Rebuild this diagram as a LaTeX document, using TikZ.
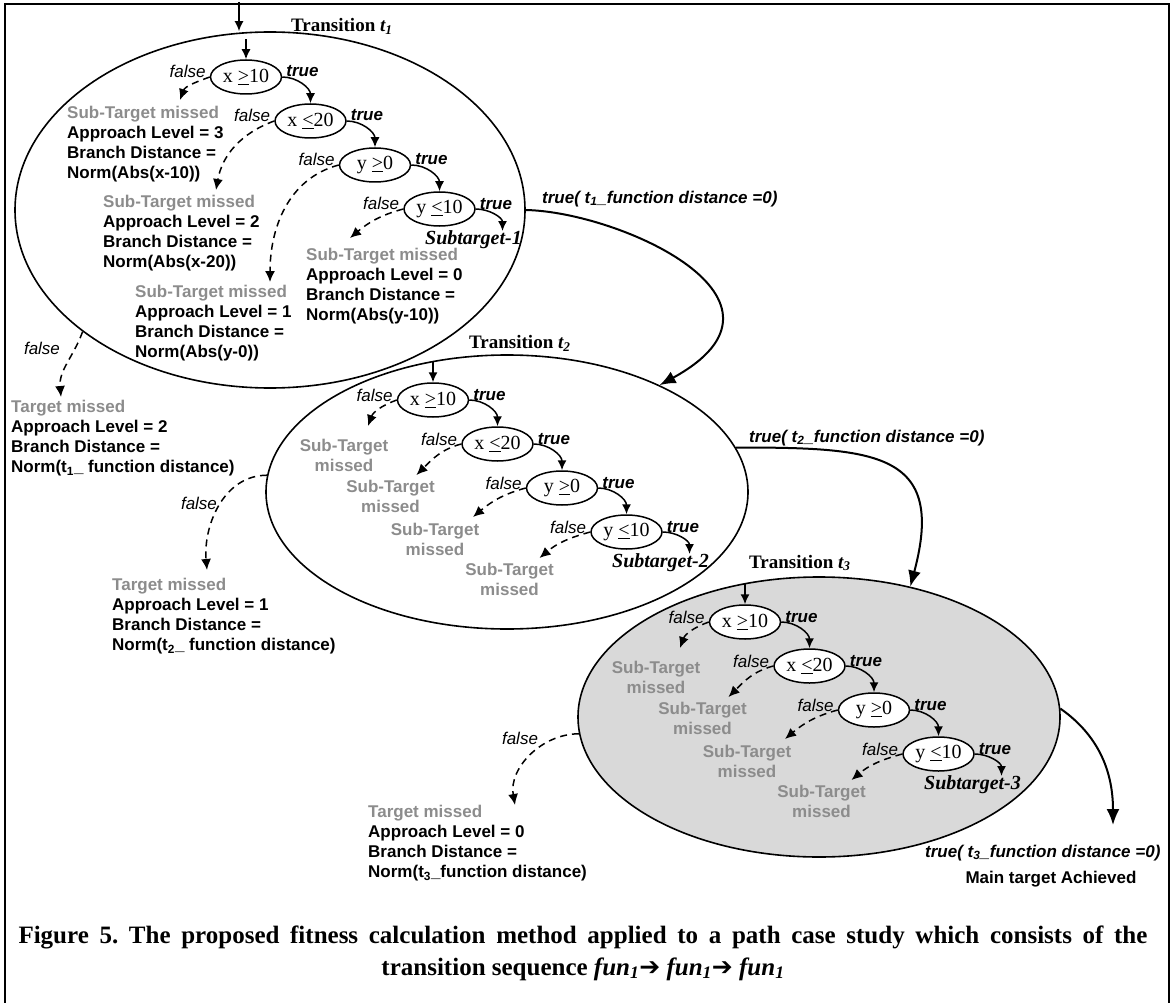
\documentclass[tikz,border=0pt]{standalone}
\usepackage{fontspec}
\setmainfont{Liberation Serif}
\setsansfont{Liberation Sans}
\newfontfamily\dingfont{DejaVu Sans}
\usetikzlibrary{shapes,shapes.geometric,arrows.meta,calc}
\frenchspacing
\definecolor{missgray}{RGB}{140,140,140}
\definecolor{stfill}{RGB}{217,217,217}
\tikzset{
  trans_n/.style = {ellipse, draw=black, line width=1.6pt, inner sep=0pt},
  cond_n/.style = {ellipse, draw=black, fill=white, line width=1.5pt, minimum width=71pt, minimum height=34pt, inner sep=0pt, font=\fontsize{20}{22}\selectfont},
  txt_n/.style = {inner sep=0pt, font=\sffamily\bfseries\fontsize{17}{20}\selectfont},
  miss_n/.style = {txt_n, align=left, anchor=north west},
  sub_n/.style = {txt_n, align=center, missgray},
  f_lbl/.style = {inner sep=0pt, font=\sffamily\itshape\fontsize{17}{20}\selectfont},
  t_lbl/.style = {inner sep=0pt, font=\sffamily\bfseries\itshape\fontsize{17}{20}\selectfont},
  tr_lbl/.style = {inner sep=0pt, anchor=west, font=\bfseries\fontsize{19}{22}\selectfont},
  st_lbl/.style = {inner sep=0pt, font=\bfseries\itshape\fontsize{20}{22}\selectfont},
  cap_n/.style = {inner sep=0pt, align=center, font=\bfseries\fontsize{25}{32}\selectfont},
  t_arr/.style = {line width=1.5pt, -{Latex[length=10pt,width=9pt]}},
  f_arr/.style = {line width=1.5pt, dash pattern=on 7pt off 5pt, -{Latex[length=11pt,width=10pt]}},
  big_arr/.style = {line width=2pt, -{Latex[length=16pt,width=13pt]}}
}

\begin{document}
\begin{tikzpicture}[x=1pt,y=1pt]
	\useasboundingbox (0,0) rectangle (1172,-1003);
	\draw[line width=1.5pt] (5,-1003) |- (1169,-4) -- (1169,-1003);

	\node[trans_n, minimum width=510pt, minimum height=356pt] (tr1) at (270,-210) {};
	\node[trans_n, minimum width=482pt, minimum height=274pt] (tr2) at (507,-492) {};
	\node[trans_n, fill=stfill, minimum width=482pt, minimum height=280pt] (tr3) at (819,-717) {};

	\node[tr_lbl] (tl1) at (291,-26) {Transition \textit{t\textsubscript{1}}};
	\node[tr_lbl] (tl2) at (469,-343) {Transition \textit{t\textsubscript{2}}};
	\node[tr_lbl] (tl3) at (749,-563) {Transition \textit{t\textsubscript{3}}};

	\coordinate (start) at (239,-2);
	\draw[t_arr] (start) -- (start |- tr1.north);

	\foreach \k/\px/\py in {1/246/77, 2/433/400, 3/745/622}{
		\node[cond_n] (c\k1) at (\px,-\py) {x \underline{>}10};
		\node[cond_n] (c\k2) at ($(c\k1)+(64.5,-44)$) {x \underline{<}20};
		\node[cond_n] (c\k3) at ($(c\k2)+(64.5,-44)$) {y \underline{>}0};
		\node[cond_n] (c\k4) at ($(c\k3)+(64.5,-44)$) {y \underline{<}10};
		\coordinate (s\k) at ($(c\k4)+(63,-22)$);
		\node[st_lbl] (st\k) at ($(c\k4)+(34,-31)$) {Subtarget-\k};
		\draw[t_arr] ($(c\k1.north)+(0,20)$) -- (c\k1.north);
		\draw[t_arr] (c\k1.east) to[out=0,in=90] (c\k2.north);
		\draw[t_arr] (c\k2.east) to[out=0,in=90] (c\k3.north);
		\draw[t_arr] (c\k3.east) to[out=0,in=90] (c\k4.north);
		\draw[t_arr] (c\k4.east) to[out=0,in=90] (s\k);
		\foreach \j in {1,...,4}{
			\node[f_lbl, anchor=base east] (f\k\j) at ($(c\k\j.west)+(-4,-1)$) {false};
			\node[t_lbl, anchor=base west] (t\k\j) at ($(c\k\j.east)+(4,0)$) {true};
		}
	}

	\node[miss_n] (m11) at (67,-106) {{\color{missgray}Sub-Target missed}\\Approach Level = 3\\Branch Distance =\\Norm(Abs(x-10))};
	\node[miss_n] (m12) at (103,-195) {{\color{missgray}Sub-Target missed}\\Approach Level = 2\\Branch Distance =\\Norm(Abs(x-20))};
	\node[miss_n] (m13) at (135,-285) {{\color{missgray}Sub-Target missed}\\Approach Level = 1\\Branch Distance =\\Norm(Abs(y-0))};
	\node[miss_n] (m14) at (306,-248) {{\color{missgray}Sub-Target missed}\\Approach Level = 0\\Branch Distance =\\Norm(Abs(y-10))};
	\coordinate (e11) at (180,-100);
	\coordinate (e12) at (216,-190);
	\coordinate (e13) at (270,-282);
	\coordinate (e14) at (350,-238);
	\draw[f_arr] (c11.west) to[out=200,in=70] (e11);
	\draw[f_arr] (c12.west) to[out=200,in=80] (e12);
	\draw[f_arr] (c13.west) to[out=195,in=90] (e13);
	\draw[f_arr] (c14.west) to[out=195,in=40] (e14);

	\foreach \k in {2,3}{
		\node[sub_n] (m\k1) at ($(c\k1)+(-89,-55)$) {Sub-Target\\missed};
		\node[sub_n] (m\k2) at ($(c\k2)+(-107,-52)$) {Sub-Target\\missed};
		\node[sub_n] (m\k3) at ($(c\k3)+(-127,-51)$) {Sub-Target\\missed};
		\node[sub_n] (m\k4) at ($(c\k4)+(-117,-47)$) {Sub-Target\\missed};
		\coordinate (e\k1) at ($(c\k1)+(-65,-26)$);
		\coordinate (e\k2) at ($(c\k2)+(-81,-31)$);
		\coordinate (e\k3) at ($(c\k3)+(-89,-29)$);
		\coordinate (e\k4) at ($(c\k4)+(-87,-26)$);
		\draw[f_arr] (c\k1.west) to[out=200,in=70] (e\k1);
		\draw[f_arr] (c\k2.west) to[out=195,in=45] (e\k2);
		\draw[f_arr] (c\k3.west) to[out=195,in=40] (e\k3);
		\draw[f_arr] (c\k4.west) to[out=195,in=40] (e\k4);
	}

	\node[miss_n] (g1) at (11,-400) {{\color{missgray}Target missed}\\Approach Level = 2\\Branch Distance =\\Norm(t\textsubscript{1}\_ function distance)};
	\node[miss_n] (g2) at (112,-578) {{\color{missgray}Target missed}\\Approach Level = 1\\Branch Distance =\\Norm(t\textsubscript{2}\_ function distance)};
	\node[miss_n] (g3) at (368,-805) {{\color{missgray}Target missed}\\Approach Level = 0\\Branch Distance =\\Norm(t\textsubscript{3}\_function distance)};
	\coordinate (h1) at (61,-397);
	\coordinate (h2) at (207,-570);
	\coordinate (h3) at (515,-805);
	\node[f_lbl] (fo1) at (42,-348) {false};
	\node[f_lbl] (fo2) at (199,-503) {false};
	\node[f_lbl] (fo3) at (520,-738) {false};
	\draw[f_arr] (tr1.213) to[out=250,in=95] (h1);
	\draw[f_arr] (tr2.176) to[out=180,in=95] (h2);
	\draw[f_arr] (tr3.184) to[out=180,in=100] (h3);

	\coordinate (goaltip) at (1113,-825);
	\draw[big_arr] (tr1.east) .. controls (620,-212) and (815,-300) .. (tr2.35);
	\draw[big_arr] (tr2.11) to[out=0,in=75,looseness=1.6] (tr3.55);
	\draw[big_arr] (tr3.2) to[out=-35,in=90] (goaltip);
	\node[t_lbl, anchor=west] (d1) at (542,-199) {true( t\textsubscript{1}\_function distance =0)};
	\node[t_lbl, anchor=west] (d2) at (749,-438) {true( t\textsubscript{2}\_function distance =0)};
	\node[t_lbl, anchor=west] (d3) at (925,-853) {true( t\textsubscript{3}\_function distance =0)};
	\node[txt_n] (goal) at (1051,-879) {Main target Achieved};

	\node[cap_n] (cap) at (583,-953) {\makebox[1129pt][s]{Figure 5. The proposed fitness calculation method applied to a path case study which consists of the}\\transition sequence \textit{fun\textsubscript{1}}{\dingfont ➔} \textit{fun\textsubscript{1}}{\dingfont ➔} \textit{fun\textsubscript{1}}};
\end{tikzpicture}
\end{document}
